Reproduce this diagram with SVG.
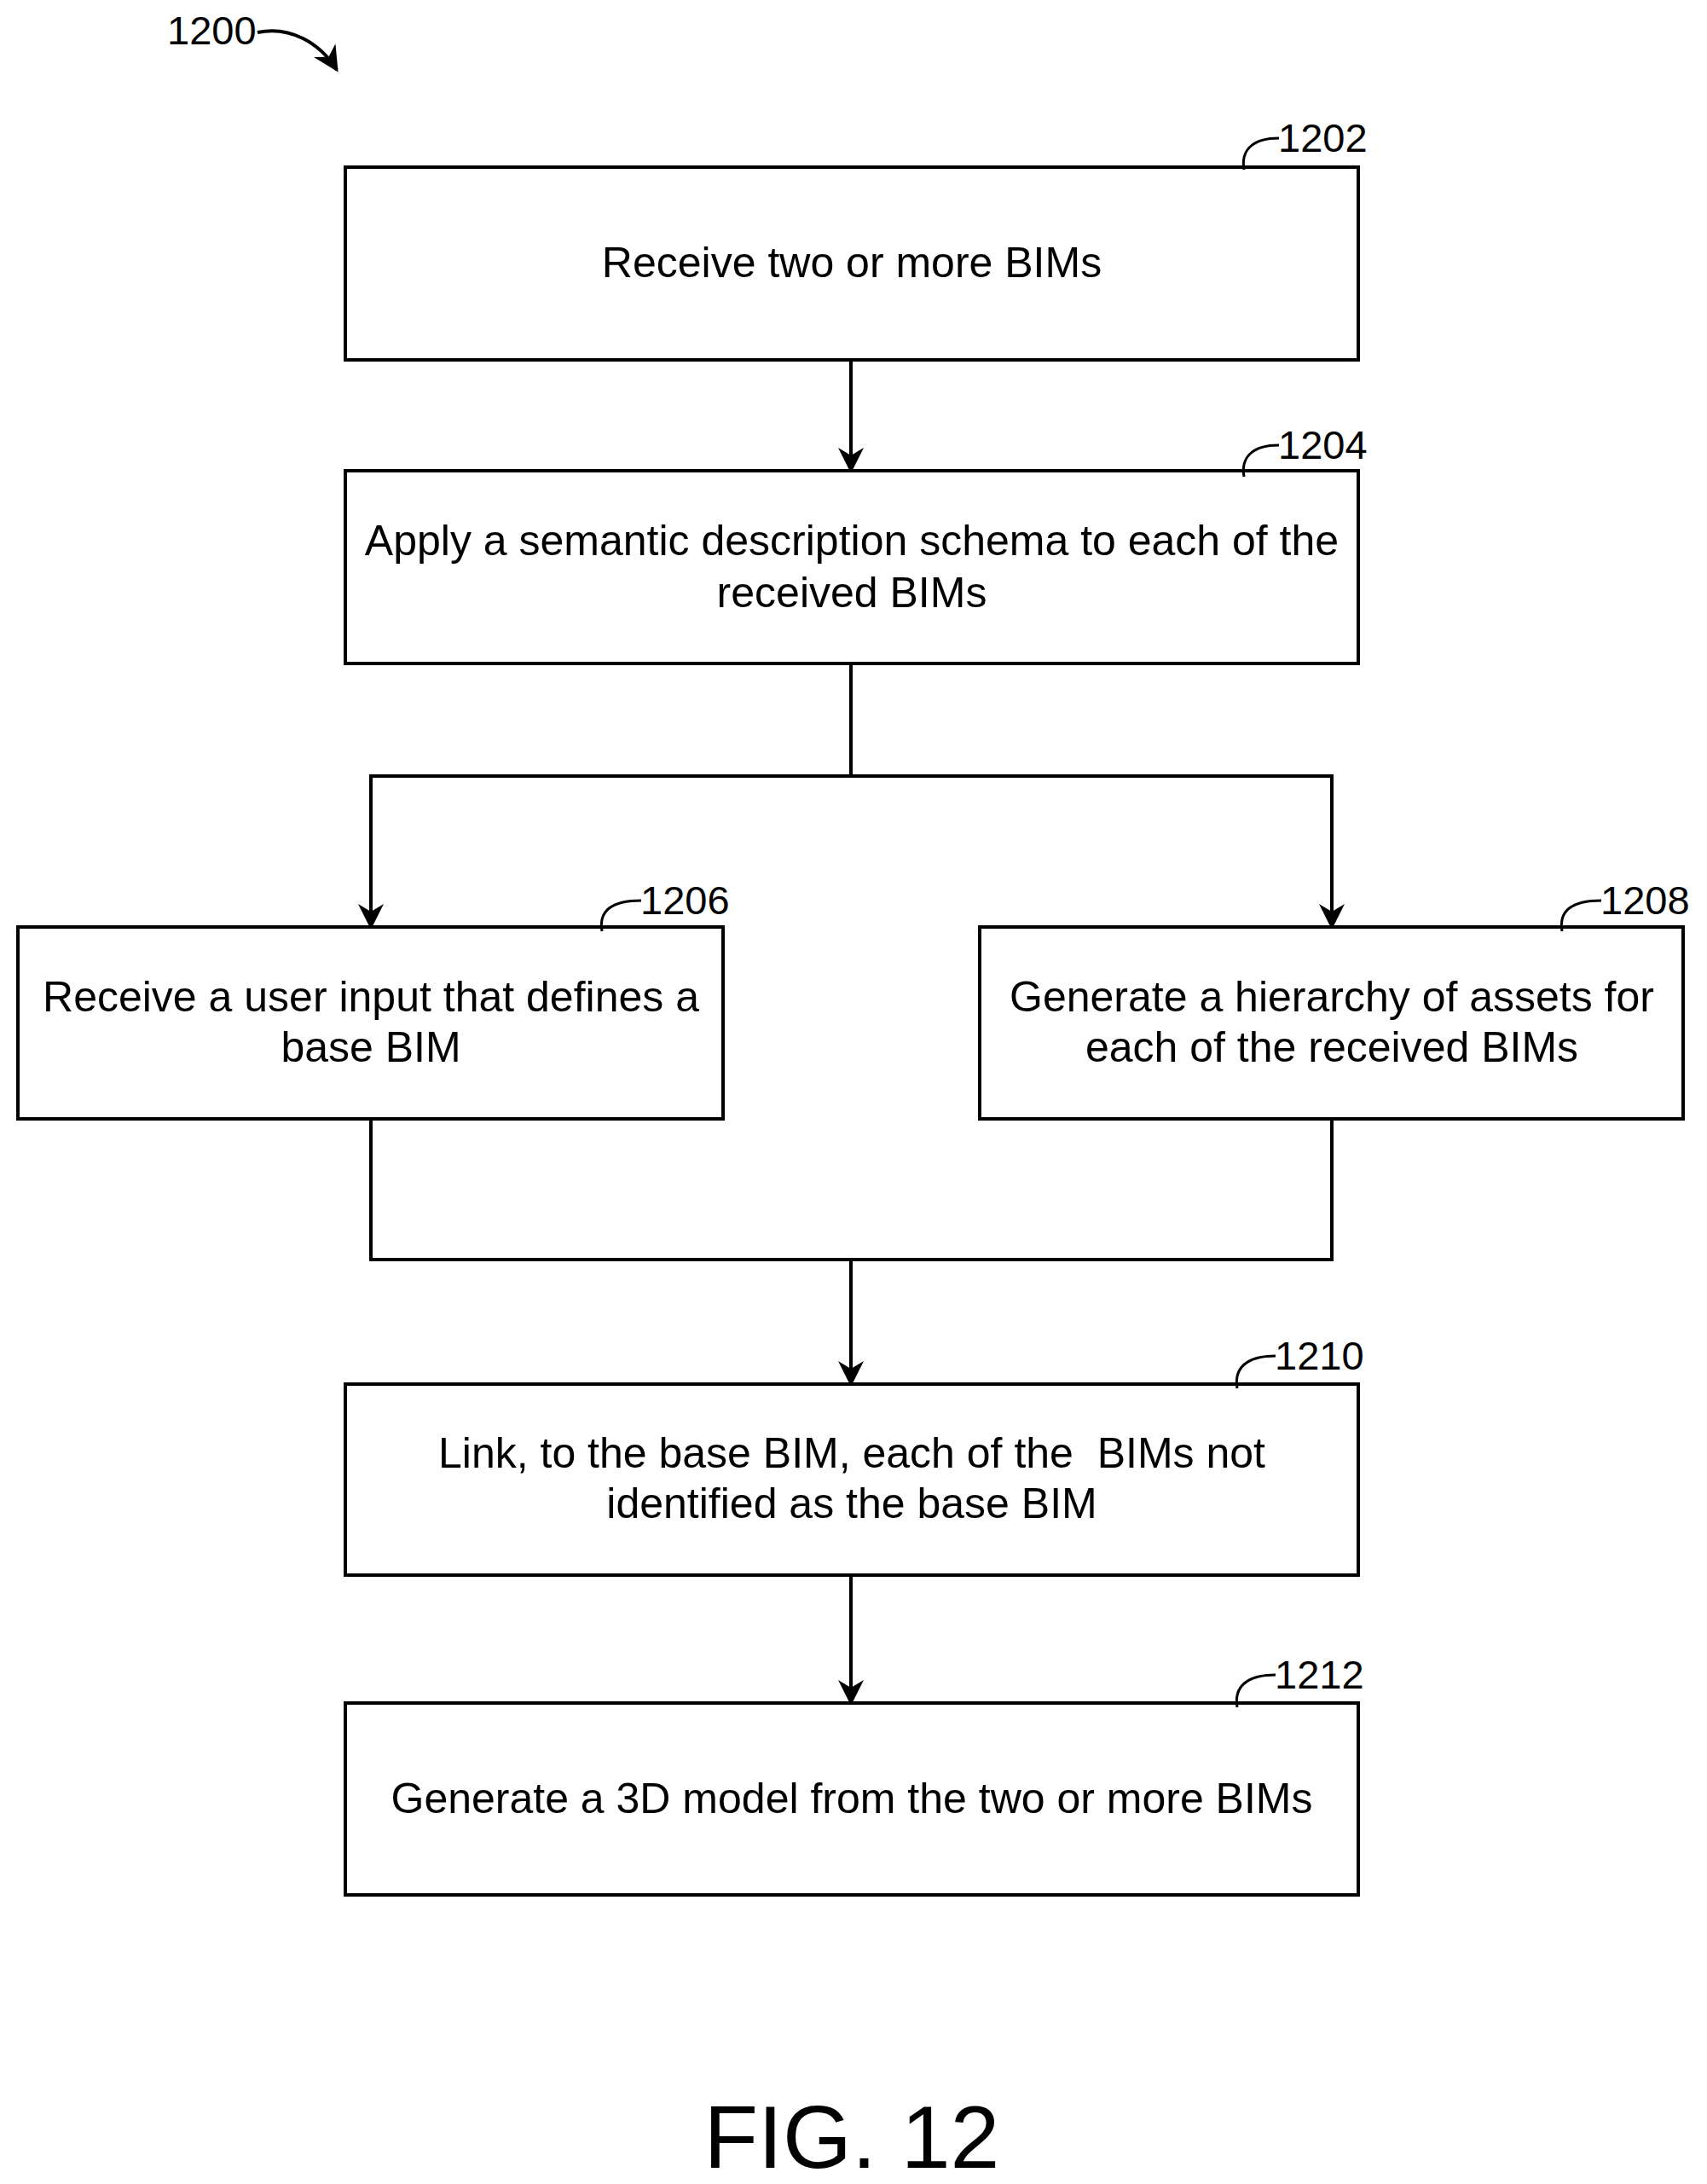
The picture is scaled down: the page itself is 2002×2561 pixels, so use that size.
<svg xmlns="http://www.w3.org/2000/svg" width="2002" height="2561" viewBox="0 0 2002 2561">
<style>
.box{fill:#fff;stroke:#000;stroke-width:4}
.t{font-family:"Liberation Sans",Arial,sans-serif;font-size:50px;text-anchor:middle;fill:#000}
.n{font-family:"Liberation Sans",Arial,sans-serif;font-size:47px;fill:#000}
.c{fill:none;stroke:#000;stroke-width:4}
.h{fill:none;stroke:#000;stroke-width:3}
</style>
<defs>
<marker id="b" viewBox="0 0 10 10" refX="9" refY="5" markerWidth="30" markerHeight="30" orient="auto" markerUnits="userSpaceOnUse"><path d="M0,0L10,5L0,10L3,5z"/></marker></defs>
<g id="label1200"><text class="n" x="196" y="52">1200</text><path class="c" d="M302,38 C340,30 375,50 395,82" marker-end="url(#b)"/></g>
<g id="connectors">
<line class="c" x1="998" y1="422" x2="998" y2="552" marker-end="url(#b)"/>
<polyline class="c" points="998,778 998,910 435,910 435,1087" marker-end="url(#b)"/>
<polyline class="c" points="998,910 1562,910 1562,1087" marker-end="url(#b)"/>
<polyline class="c" points="435,1312 435,1477 1562,1477 1562,1312"/>
<line class="c" x1="998" y1="1477" x2="998" y2="1623" marker-end="url(#b)"/>
<line class="c" x1="998" y1="1847" x2="998" y2="1997" marker-end="url(#b)"/>
</g>
<g id="n1202"><rect class="box" x="405" y="196" width="1188" height="226"/><text class="t" x="999" y="325">Receive two or more BIMs</text><path class="h" d="M1459,199 C1455,175 1470,162 1500,162"/><text class="n" x="1499" y="178">1202</text></g>
<g id="n1204"><rect class="box" x="405" y="552" width="1188" height="226"/><text class="t" x="999" y="651">Apply a semantic description schema to each of the</text><text class="t" x="999" y="712">received BIMs</text><path class="h" d="M1459,559 C1455,535 1470,522 1500,522"/><text class="n" x="1499" y="538">1204</text></g>
<g id="n1206"><rect class="box" x="21" y="1087" width="827" height="225"/><text class="t" x="435" y="1186">Receive a user input that defines a</text><text class="t" x="435" y="1245">base BIM</text><path class="h" d="M706,1092 C702,1068 717,1056 752,1056"/><text class="n" x="751" y="1072">1206</text></g>
<g id="n1208"><rect class="box" x="1149" y="1087" width="825" height="225"/><text class="t" x="1562" y="1186">Generate a hierarchy of assets for</text><text class="t" x="1562" y="1245">each of the received BIMs</text><path class="h" d="M1832,1092 C1828,1068 1843,1056 1878,1056"/><text class="n" x="1877" y="1072">1208</text></g>
<g id="n1210"><rect class="box" x="405" y="1623" width="1188" height="224"/><text class="t" x="999" y="1721">Link, to the base BIM, each of the&#160; BIMs not</text><text class="t" x="999" y="1780">identified as the base BIM</text><path class="h" d="M1451,1628 C1447,1604 1462,1590 1496,1590"/><text class="n" x="1495" y="1606">1210</text></g>
<g id="n1212"><rect class="box" x="405" y="1997" width="1188" height="225"/><text class="t" x="999" y="2126">Generate a 3D model from the two or more BIMs</text><path class="h" d="M1451,2002 C1447,1978 1462,1964 1496,1964"/><text class="n" x="1495" y="1980">1212</text></g>
<text class="t" x="999" y="2542" style="font-size:104px">FIG. 12</text>
</svg>
